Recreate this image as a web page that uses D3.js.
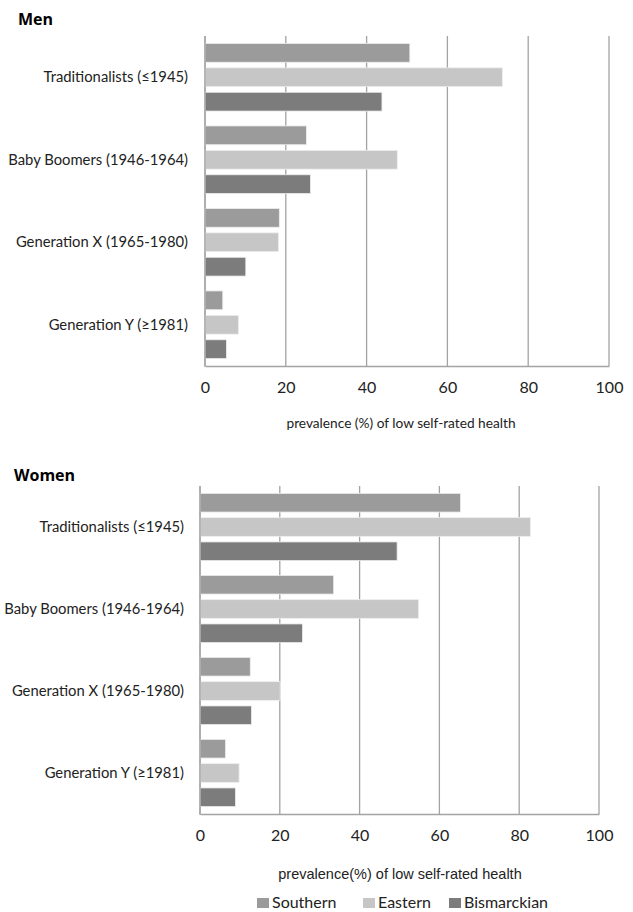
<!DOCTYPE html>
<html lang="en">
<head>
    <meta charset="UTF-8">
    <title>Low self-rated health by generation</title>
    <script src="https://d3js.org/d3.v7.min.js"></script>
    <style>
        body {
            margin: 0;
            background: white;
        }
        .cat, .tick text, .legend text {
            font-family: Lato, "Open Sans", sans-serif;
            fill: #222;
        }
        .panelTitle {
            font-family: "Open Sans", Lato, sans-serif;
            font-weight: bold;
            font-size: 16px;
        }
        .axisTitle {
            fill: #222;
        }
    </style>
</head>
<body>
<svg id="viz"></svg>
<script>
    var categories = ["Traditionalists (\u22641945)", "Baby Boomers (1946-1964)", "Generation X (1965-1980)", "Generation Y (\u22651981)"];
    var series = ["Southern", "Eastern", "Bismarckian"];
    var ticks = [0, 20, 40, 60, 80, 100];

    // values per category: Southern, Eastern, Bismarckian
    var menValues = [
        [50.7, 73.6, 43.8],
        [25.1, 47.6, 26.1],
        [18.4, 18.2, 10.1],
        [4.4, 8.3, 5.3]
    ];
    var womenValues = [
        [65.3, 82.8, 49.4],
        [33.5, 54.8, 25.7],
        [12.6, 20.1, 12.9],
        [6.4, 9.8, 8.9]
    ];

    var colors = {Southern: "#9a9b9a", Eastern: "#c5c6c5", Bismarckian: "#7c7c7c"};
    var gridColor = "#a3a3a3";

    var svg = d3.select("#viz")
        .attr("width", 633)
        .attr("height", 912);

    function drawPanel(opts) {
        var g = svg.append("g");

        var x = d3.scaleLinear()
            .domain([0, 100])
            .range([opts.left, opts.right]);

        var y0 = d3.scaleBand()
            .domain(categories)
            .range([opts.top, opts.bottom]);

        var pad = y0.bandwidth() * 0.09;
        var y1 = d3.scaleBand()
            .domain(series)
            .range([pad, y0.bandwidth() - pad])
            .paddingInner(0.23);

        g.append("text")
            .attr("class", "panelTitle")
            .attr("x", opts.titleX)
            .attr("y", opts.titleY)
            .text(opts.title);

        // grid
        g.selectAll("line.grid")
            .data(ticks)
            .enter()
            .append("line")
            .attr("class", "grid")
            .attr("x1", function (d) { return x(d); })
            .attr("x2", function (d) { return x(d); })
            .attr("y1", opts.top)
            .attr("y2", opts.bottom)
            .attr("stroke", gridColor)
            .attr("stroke-width", 1.3);

        var rows = opts.values.map(function (vals, i) {
            return {cat: categories[i], vals: vals};
        });

        var groups = g.selectAll("g.cat")
            .data(rows)
            .enter()
            .append("g")
            .attr("transform", function (d) { return "translate(0," + y0(d.cat) + ")"; });

        groups.selectAll("rect")
            .data(function (d) {
                return d.vals.map(function (v, j) { return {s: series[j], v: v}; });
            })
            .enter()
            .append("rect")
            .attr("x", x(0))
            .attr("y", function (d) { return y1(d.s); })
            .attr("width", function (d) { return x(d.v) - x(0); })
            .attr("height", y1.bandwidth())
            .attr("fill", function (d) { return colors[d.s]; })
            .attr("stroke", "#eeeeee")
            .attr("stroke-width", 0.8);

        groups.append("text")
            .attr("class", "cat")
            .attr("x", opts.labelX)
            .attr("y", y0.bandwidth() / 2)
            .attr("dy", "0.35em")
            .attr("text-anchor", "end")
            .style("font-size", "14.8px")
            .text(function (d) { return d.cat; });

        // left + bottom axis lines
        g.append("line")
            .attr("x1", x(0)).attr("x2", x(0))
            .attr("y1", opts.top).attr("y2", opts.bottom + 1)
            .attr("stroke", gridColor).attr("stroke-width", 1.3);

        var xAxis = d3.axisBottom(x)
            .tickValues(ticks)
            .tickSize(0)
            .tickPadding(16);
        var ax = g.append("g")
            .attr("transform", "translate(0," + opts.bottom + ")")
            .call(xAxis);
        ax.select(".domain").attr("stroke", gridColor).attr("stroke-width", 1.5);
        ax.selectAll(".tick text").style("font-size", "16px");

        g.append("text")
            .attr("class", "axisTitle")
            .attr("x", opts.axisTitleX)
            .attr("y", opts.axisTitleY)
            .attr("text-anchor", "middle")
            .style("font-family", opts.axisFont)
            .style("font-size", opts.axisSize)
            .text(opts.axisTitle);
    }

    drawPanel({
        title: "Men", titleX: 18, titleY: 25,
        values: menValues,
        left: 205, right: 609, top: 36, bottom: 366,
        labelX: 188,
        axisTitle: "prevalence (%) of low self-rated health", axisTitleX: 401, axisTitleY: 428,
        axisFont: "Lato, sans-serif", axisSize: "13.7px"
    });

    drawPanel({
        title: "Women", titleX: 14, titleY: 481,
        values: womenValues,
        left: 200, right: 599, top: 486, bottom: 814,
        labelX: 184,
        axisTitle: "prevalence(%) of low self-rated health", axisTitleX: 400, axisTitleY: 879,
        axisFont: "'Liberation Sans', Arial, sans-serif", axisSize: "14.5px"
    });

    // legend
    var legendX = [257, 363, 449];
    var legend = svg.append("g").attr("class", "legend");
    var items = legend.selectAll("g")
        .data(series)
        .enter()
        .append("g")
        .attr("transform", function (d, i) { return "translate(" + legendX[i] + ",898)"; });
    items.append("rect")
        .attr("width", 12)
        .attr("height", 10)
        .attr("fill", function (d) { return colors[d]; });
    items.append("text")
        .attr("x", 15)
        .attr("y", 10)
        .style("font-size", "16px")
        .text(function (d) { return d; });
</script>
</body>
</html>
